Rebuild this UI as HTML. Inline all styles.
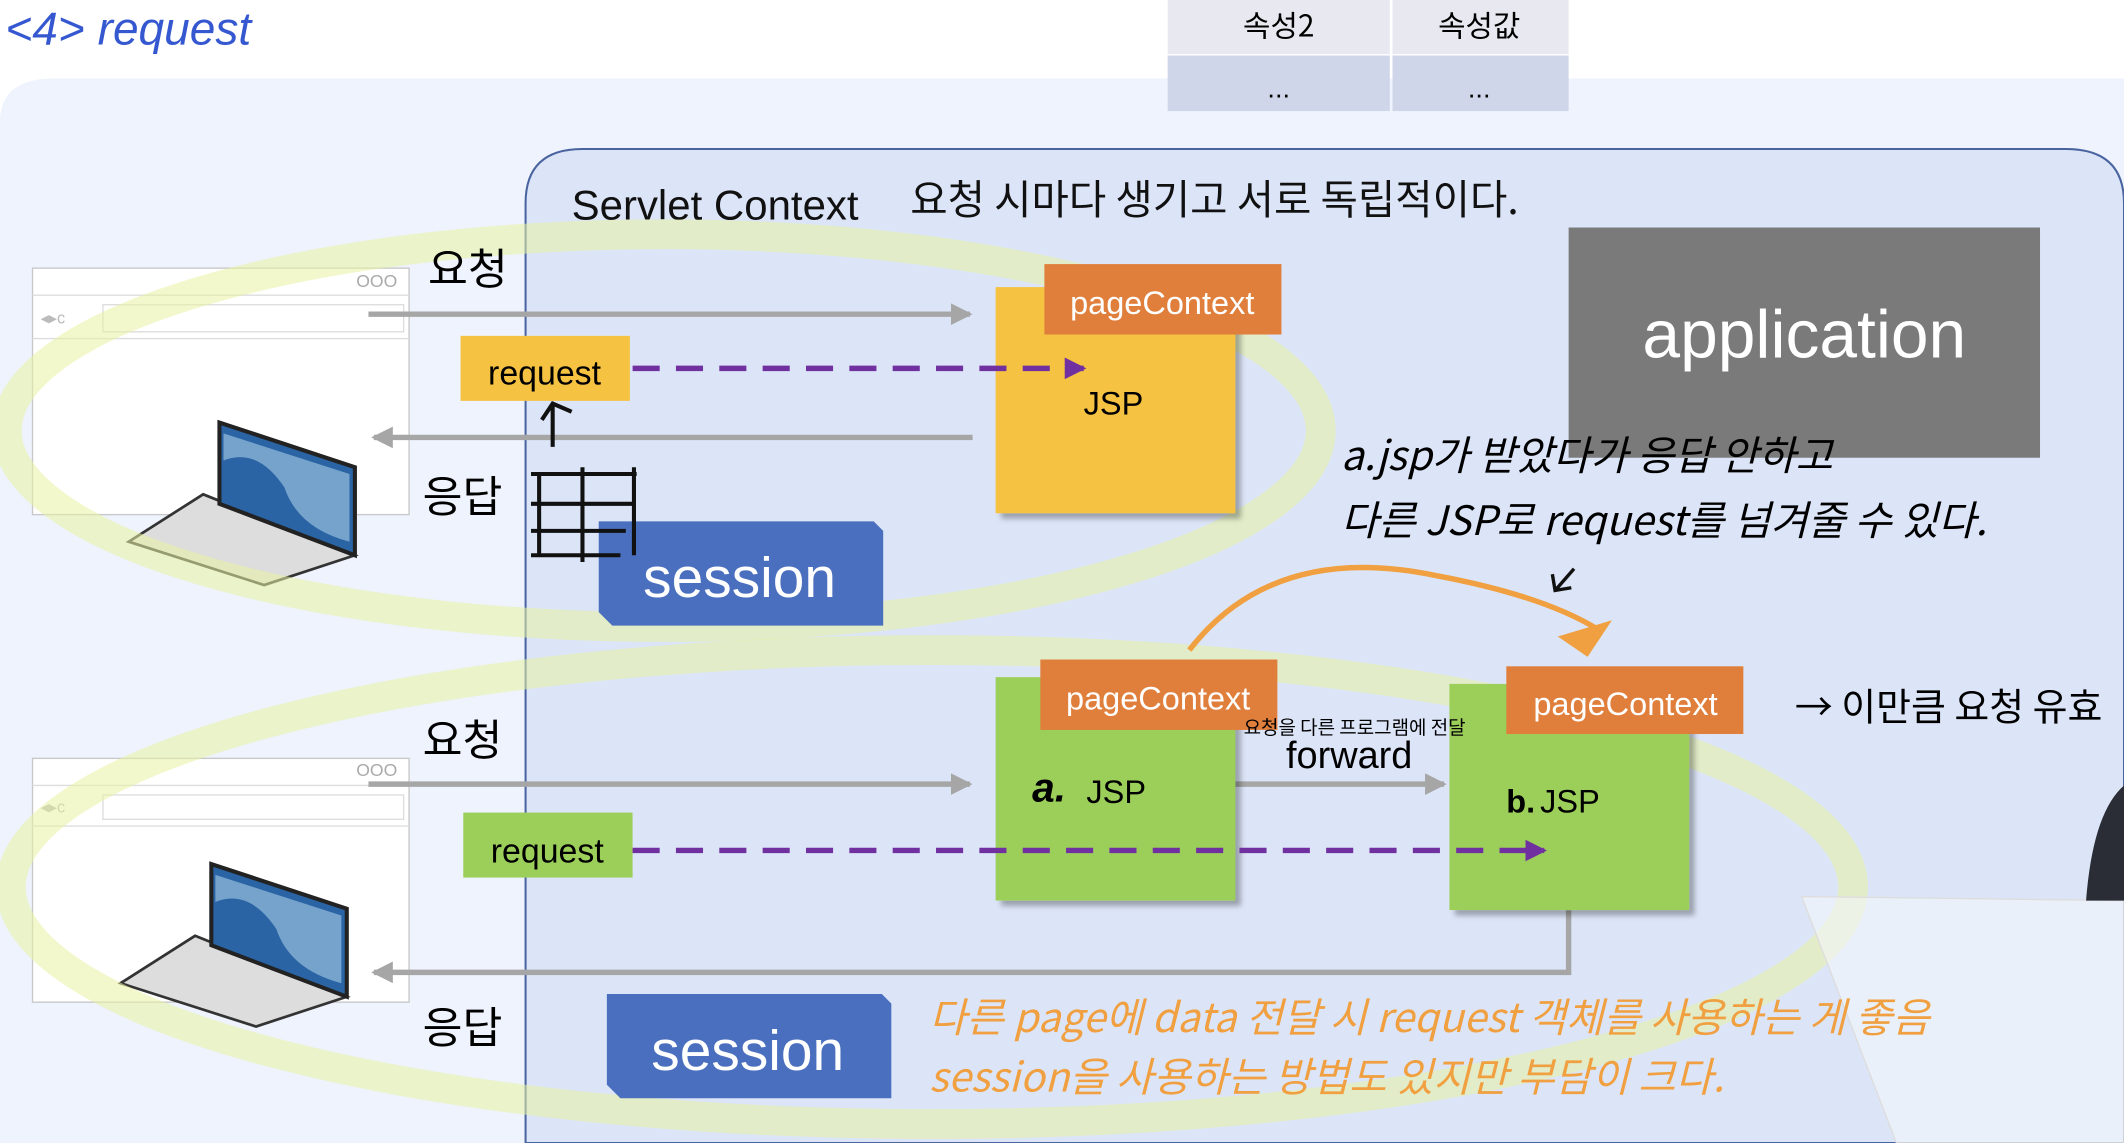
<!DOCTYPE html>
<html><head><meta charset="utf-8"><style>
html,body{margin:0;padding:0;background:#fff;overflow:hidden}
svg{display:block}
text{font-family:"Liberation Sans","Noto Sans CJK KR",sans-serif}
.h{font-family:"Noto Sans CJK KR","NanumGothic",sans-serif}
</style></head><body>
<svg width="2124" height="1143" viewBox="0 0 1568 844" preserveAspectRatio="none" xmlns="http://www.w3.org/2000/svg">
<defs>
<marker id="ag" markerWidth="4" markerHeight="4" refX="3.5" refY="2" orient="auto" markerUnits="strokeWidth"><path d="M0,0 L4,2 L0,4z" fill="#a6a6a6"/></marker>
<marker id="ap" markerWidth="4" markerHeight="4" refX="3.5" refY="2" orient="auto" markerUnits="strokeWidth"><path d="M0,0 L4,2 L0,4z" fill="#7030a0"/></marker>
<filter id="sh"><feDropShadow dx="4" dy="4" stdDeviation="2" flood-color="#000" flood-opacity="0.3"/></filter>
</defs>
<rect width="1568" height="844" fill="#fff"/>
<text x="4" y="33" font-size="34" fill="#3558d0" font-style="italic">&lt;4&gt; request</text>
<!-- backdrop -->
<path d="M0,90 Q0,58 40,58 L1568,58 L1568,844 L0,844z" fill="#eef3fd"/>
<!-- table -->
<rect x="862" y="0" width="164" height="40" fill="#e8e9f0"/><rect x="1028" y="0" width="130" height="40" fill="#e8e9f0"/>
<rect x="862" y="41" width="164" height="41" fill="#d0d6ea"/><rect x="1028" y="41" width="130" height="41" fill="#d0d6ea"/>
<text x="944" y="27" font-size="22" text-anchor="middle" class="h">속성2</text>
<text x="1092" y="27" font-size="22" text-anchor="middle" class="h">속성값</text>
<text x="944" y="72" font-size="20" text-anchor="middle">...</text>
<text x="1092" y="72" font-size="20" text-anchor="middle">...</text>
<path d="M388,844 L388,150 Q388,110 430,110 L1525,110 Q1568,110 1568,150 L1568,844z" fill="#dce5f8" stroke="#4a64a0" stroke-width="1.5"/>
<text x="422" y="162" font-size="31" fill="#111">Servlet Context</text>
<text x="672" y="158" font-size="30" fill="#111" class="h">요청 시마다 생기고 서로 독립적이다.</text>
<rect x="1158" y="168" width="348" height="170" fill="#7a7a7a"/>
<text x="1332" y="264" font-size="50" fill="#fff" text-anchor="middle">application</text>
<!-- browsers -->
<g fill="#fff" stroke="#c8c8c8"><rect x="24" y="198" width="278" height="182"/><rect x="24" y="560" width="278" height="180"/></g>
<g stroke="#ddd" fill="none"><line x1="24" y1="218" x2="302" y2="218"/><line x1="24" y1="250" x2="302" y2="250"/><line x1="24" y1="580" x2="302" y2="580"/><line x1="24" y1="610" x2="302" y2="610"/>
<rect x="76" y="225" width="222" height="20"/><rect x="76" y="587" width="222" height="18"/></g>
<text x="263" y="212" font-size="13" fill="#aaa">OOO</text><text x="263" y="573" font-size="13" fill="#aaa">OOO</text>
<text x="30" y="239" font-size="12" fill="#bbb">◂▸c</text><text x="30" y="600" font-size="12" fill="#bbb">◂▸c</text>
<!-- laptops -->
<g id="lp"><path d="M95,400 L150,365 L262,410 L195,432z" fill="#ddd" stroke="#333" stroke-width="2"/>
<path d="M162,312 L262,345 L262,410 L162,372z" fill="#2a64a4" stroke="#222" stroke-width="3"/>
<path d="M165,320 L258,350 L258,400 Q220,390 210,360 Q190,330 165,340z" fill="#76a3cb"/></g>
<use href="#lp" transform="translate(-6,326)"/>
<!-- highlights -->
<g fill="none" stroke="#e8f2a0" stroke-opacity="0.55" stroke-width="22">
<ellipse cx="490" cy="318" rx="485" ry="145"/>
<ellipse cx="688" cy="655" rx="680" ry="175"/></g>
<!-- arrows -->
<g stroke="#a6a6a6" stroke-width="4" fill="none">
<line x1="272" y1="232" x2="716" y2="232" marker-end="url(#ag)"/>
<line x1="718" y1="323" x2="276" y2="323" marker-end="url(#ag)"/>
<line x1="272" y1="579" x2="716" y2="579" marker-end="url(#ag)"/>
<line x1="912" y1="579" x2="1066" y2="579" marker-end="url(#ag)"/>
<polyline points="1158,672 1158,718 276,718" marker-end="url(#ag)"/></g>
<text x="316" y="210" font-size="32" class="h">요청</text>
<text x="312" y="378" font-size="32" class="h">응답</text>
<text x="312" y="558" font-size="32" class="h">요청</text>
<text x="312" y="770" font-size="32" class="h">응답</text>
<!-- boxes -->
<rect x="735" y="212" width="177" height="167" fill="#f5c242" filter="url(#sh)"/>
<rect x="771" y="195" width="175" height="52" fill="#e07f3c"/>
<text x="858" y="232" font-size="24" fill="#fff" text-anchor="middle">pageContext</text>
<text x="822" y="306" font-size="24" text-anchor="middle">JSP</text>
<rect x="735" y="500" width="177" height="165" fill="#9ccf5a" filter="url(#sh)"/>
<rect x="768" y="487" width="175" height="52" fill="#e07f3c"/>
<text x="855" y="524" font-size="24" fill="#fff" text-anchor="middle">pageContext</text>
<text x="802" y="593" font-size="24">JSP</text><text x="762" y="592" font-size="30" font-style="italic" font-weight="bold">a.</text>
<rect x="1070" y="505" width="177" height="167" fill="#9ccf5a" filter="url(#sh)"/>
<rect x="1112" y="492" width="175" height="50" fill="#e07f3c"/>
<text x="1200" y="528" font-size="24" fill="#fff" text-anchor="middle">pageContext</text>
<text x="1137" y="600" font-size="24">JSP</text><text x="1112" y="600" font-size="24" font-weight="bold">b.</text>
<text x="996" y="567" font-size="28" text-anchor="middle">forward</text>
<text x="1000" y="542" font-size="14" text-anchor="middle" class="h">요청을 다른 프로그램에 전달</text>
<rect x="340" y="248" width="125" height="48" fill="#f5c242"/><text x="402" y="284" font-size="25" text-anchor="middle">request</text>
<rect x="342" y="600" width="125" height="48" fill="#9ccf5a"/><text x="404" y="637" font-size="25" text-anchor="middle">request</text>
<g stroke="#7030a0" stroke-width="4" stroke-dasharray="20,12" fill="none">
<line x1="467" y1="272" x2="800" y2="272" marker-end="url(#ap)"/>
<line x1="467" y1="628" x2="1140" y2="628" marker-end="url(#ap)"/></g>
<path d="M442,385 L645,385 L652,392 L652,462 L452,462 L442,452z" fill="#4a6fbf"/>
<text x="546" y="441" font-size="42" fill="#fff" text-anchor="middle">session</text>
<path d="M448,734 L651,734 L658,741 L658,811 L458,811 L448,801z" fill="#4a6fbf"/>
<text x="552" y="790" font-size="42" fill="#fff" text-anchor="middle">session</text>
<!-- handwriting -->
<g stroke="#111" stroke-width="3" fill="none"><path d="M408,330 L408,300 M400,310 L408,298 L422,304"/>
<path d="M398,350 L398,410 M392,350 L470,350 M392,372 L468,372 M392,392 L462,392 M392,410 L458,410 M430,345 L430,415 M468,345 L468,410"/></g>
<path d="M878,480 Q940,400 1060,425 Q1140,440 1180,465" stroke="#f0a040" stroke-width="4" fill="none"/>
<path d="M1150,470 L1190,458 L1172,485z" fill="#f0a040"/>
<path d="M1330,662 L1568,665 L1568,844 L1400,844z" fill="#f4f6fa" fill-opacity="0.6" stroke="#ddd"/>
<path d="M1568,580 Q1545,600 1540,665 L1568,665z" fill="#2a2d36"/>
<text x="990" y="347" font-size="30" class="h" font-style="italic">a.jsp가 받았다가 응답 안하고</text>
<text x="990" y="395" font-size="30" class="h" font-style="italic">다른 JSP로 request를 넘겨줄 수 있다.</text>
<path d="M1162,420 L1148,436 M1146,424 L1148,436 L1160,434" stroke="#111" stroke-width="2.5" fill="none"/>
<text x="1325" y="532" font-size="28" class="h">→ 이만큼 요청 유효</text>
<text x="686" y="762" font-size="30" fill="#f0a040" class="h" font-style="italic">다른 page에 data 전달 시 request 객체를 사용하는 게 좋음</text>
<text x="686" y="806" font-size="30" fill="#f0a040" class="h" font-style="italic">session을 사용하는 방법도 있지만 부담이 크다.</text>
</svg>
</body></html>
